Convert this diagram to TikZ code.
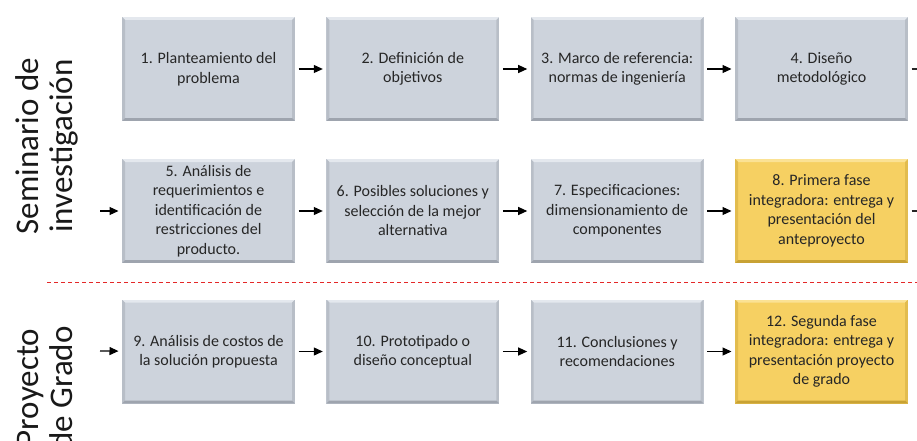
\documentclass[tikz,border=0pt]{standalone}
\usepackage{fontspec}
\setmainfont{Carlito}
\usetikzlibrary{arrows.meta,shadows,calc}
\definecolor{boxgrey}{RGB}{205,211,220}
\definecolor{greylight}{RGB}{228,232,238}
\definecolor{greymid}{RGB}{184,190,199}
\definecolor{greydark}{RGB}{158,164,174}
\definecolor{boxyellow}{RGB}{246,208,98}
\definecolor{yellowlight}{RGB}{251,226,148}
\definecolor{yellowmid}{RGB}{226,188,78}
\definecolor{yellowdark}{RGB}{200,162,52}
\definecolor{textdark}{RGB}{38,38,38}
\definecolor{dashred}{RGB}{228,40,40}
\newcommand\bevelfill[3]{%
  \coordinate (bvA) at ($(path picture bounding box.south west)+(1.75pt,1.75pt)$);
  \coordinate (bvB) at ($(path picture bounding box.north east)+(-1.75pt,-1.75pt)$);
  \fill[#1] (bvA|-bvB) -- (bvB) -- ($(bvB)+(-3pt,-3pt)$) -- ($(bvA|-bvB)+(3pt,-3pt)$) -- cycle;
  \fill[#2] (bvA) -- (bvA|-bvB) -- ($(bvA|-bvB)+(3pt,-3pt)$) -- ($(bvA)+(3pt,3pt)$) -- cycle;
  \fill[#2] (bvB|-bvA) -- (bvB) -- ($(bvB)+(-3pt,-3pt)$) -- ($(bvB|-bvA)+(-3pt,3pt)$) -- cycle;
  \fill[#3] (bvA) -- (bvB|-bvA) -- ($(bvB|-bvA)+(-3pt,3pt)$) -- ($(bvA)+(3pt,3pt)$) -- cycle;
}
\tikzset{
  stepbox/.style={draw=white, line width=3.5pt, minimum width=176.5pt,
    minimum height=107.5pt, inner sep=0pt, align=center, text=textdark,
    font=\fontsize{16}{19.5}\selectfont,
    drop shadow={shadow xshift=0.8pt, shadow yshift=-1.6pt, opacity=0.28, fill=black!70}},
  greybox/.style={stepbox, fill=boxgrey, path picture={\bevelfill{greylight}{greymid}{greydark}}},
  yellowbox/.style={stepbox, fill=boxyellow, path picture={\bevelfill{yellowlight}{yellowmid}{yellowdark}}},
  conn/.style={line width=1.1pt, draw=black, -{Triangle[length=9pt,width=8pt]}},
  connline/.style={line width=1.1pt, draw=black!85},
  sepline/.style={line width=0.9pt, draw=dashred, dash pattern=on 4pt off 3pt},
  sidelabel/.style={rotate=90, anchor=base, inner sep=0pt, text=black!90,
    font=\fontsize{33}{34}\selectfont}
}
\begin{document}
\begin{tikzpicture}[x=1pt,y=1pt]
\useasboundingbox (0,0) rectangle (917,440);
\fill[white] (0,0) rectangle (917,440);
% side labels
\node[sidelabel] (sem1) at (38,294) {Seminario de};
\node[sidelabel] (sem2) at (72,294) {investigación};
\node[sidelabel] (pg1) at (38,52) {Proyecto};
\node[sidelabel] (pg2) at (72,52) {de Grado};
% separator
\coordinate (dL) at (47,158);
\coordinate (dR) at (917,158);
\draw[sepline] (dL) -- (dR);
% row 1
\node[greybox] (b1) at (208.5,371) {1. Planteamiento del\\problema};
\node[greybox] (b2) at (412.8,371) {2. Definición de\\objetivos};
\node[greybox] (b3) at (617.2,371) {3. Marco de referencia:\\normas de ingeniería};
\node[greybox] (b4) at (821.5,371) {4. Diseño\\metodológico};
% row 2
\node[greybox] (b5) at (208.5,229) {5. Análisis de\\requerimientos e\\identificación de\\restricciones del\\producto.};
\node[greybox] (b6) at (412.8,229) {6. Posibles soluciones y\\selección de la mejor\\alternativa};
\node[greybox] (b7) at (617.2,229) {7. Especificaciones:\\dimensionamiento de\\componentes};
\node[yellowbox] (b8) at (821.5,229) {8. Primera fase\\integradora: entrega y\\presentación del\\anteproyecto};
% row 3
\node[greybox] (b9) at (208.5,88.5) {9. Análisis de costos de\\la solución propuesta};
\node[greybox] (b10) at (412.8,88.5) {10. Prototipado o\\diseño conceptual};
\node[greybox] (b11) at (617.2,88.5) {11. Conclusiones y\\recomendaciones};
\node[yellowbox] (b12) at (821.5,88.5) {12. Segunda fase\\integradora: entrega y\\presentación proyecto\\de grado};
% connectors
\coordinate (out1) at (917,371);
\coordinate (out2) at (917,229);
\coordinate (in2) at (100,229);
\coordinate (in3) at (100,89);
\draw[conn] (b1) -- (b2);
\draw[conn] (b2) -- (b3);
\draw[conn] (b3) -- (b4);
\draw[connline] (b4) -- (out1);
\draw[conn] (in2) -- (b5);
\draw[conn] (b5) -- (b6);
\draw[conn] (b6) -- (b7);
\draw[conn] (b7) -- (b8);
\draw[connline] (b8) -- (out2);
\draw[conn] (in3) -- (b9);
\draw[conn] (b9) -- (b10);
\draw[conn] (b10) -- (b11);
\draw[conn] (b11) -- (b12);
\end{tikzpicture}
\end{document}
